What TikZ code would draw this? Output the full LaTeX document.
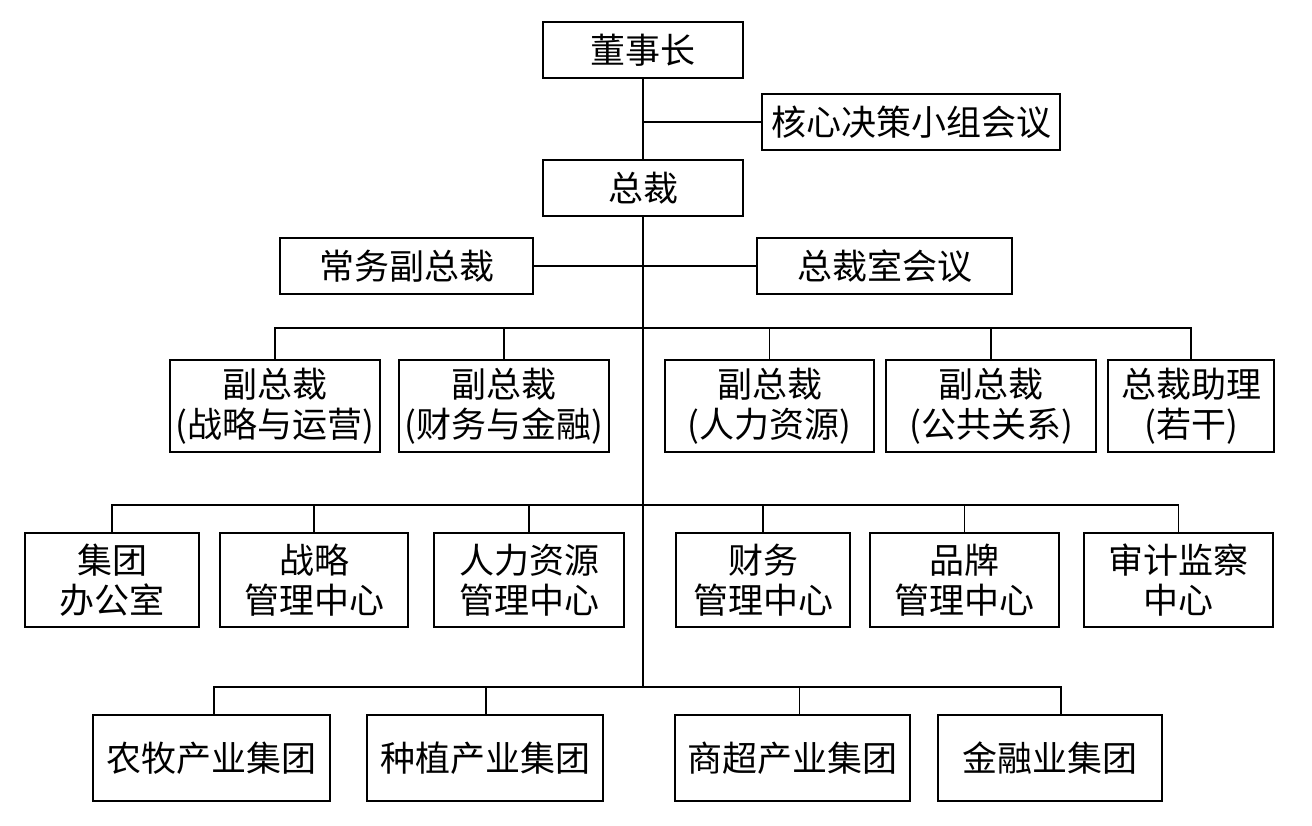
\documentclass[tikz,border=0pt]{standalone}
\usepackage{fontspec}
\newfontfamily\cjk{Noto Sans CJK SC}
\begin{document}
\begin{tikzpicture}[x=1pt,y=-1pt,
  box/.style={draw=black,line width=2.6pt,inner sep=0pt,align=center,
    font=\cjk\fontsize{35}{40}\selectfont},
  conn/.style={draw=black,line width=1.8pt}]
\useasboundingbox[fill=white] (0,0) rectangle (1312,826);
% top
\node[box,minimum width=200,minimum height=56] (dsz) at (643,50) {董事长};
\node[box,minimum width=298,minimum height=56] (hx) at (911,122) {核心决策小组会议};
\node[box,minimum width=200,minimum height=56] (zc) at (643,188) {总裁};
\node[box,minimum width=253,minimum height=56] (cw) at (406.5,266) {常务副总裁};
\node[box,minimum width=255,minimum height=56] (zcs) at (884.5,266) {总裁室会议};
% VP row
\node[box,minimum width=210,minimum height=92] (v1) at (275,406) {副总裁\\(战略与运营)};
\node[box,minimum width=210,minimum height=92] (v2) at (504,406) {副总裁\\(财务与金融)};
\node[box,minimum width=209,minimum height=92] (v3) at (769.5,406) {副总裁\\(人力资源)};
\node[box,minimum width=210,minimum height=92] (v4) at (991,406) {副总裁\\(公共关系)};
\node[box,minimum width=166,minimum height=92] (v5) at (1191,406) {总裁助理\\(若干)};
% centers row
\node[box,minimum width=174,minimum height=94] (c1) at (112,580) {集团\\办公室};
\node[box,minimum width=188,minimum height=94] (c2) at (314,580) {战略\\管理中心};
\node[box,minimum width=190,minimum height=94] (c3) at (529,580) {人力资源\\管理中心};
\node[box,minimum width=174,minimum height=94] (c4) at (763,580) {财务\\管理中心};
\node[box,minimum width=189,minimum height=94] (c5) at (964.5,580) {品牌\\管理中心};
\node[box,minimum width=189,minimum height=94] (c6) at (1178.5,580) {审计监察\\中心};
% groups row
\node[box,minimum width=237,minimum height=86] (g1) at (211.5,758) {农牧产业集团};
\node[box,minimum width=236,minimum height=86] (g2) at (485,758) {种植产业集团};
\node[box,minimum width=235,minimum height=86] (g3) at (792.5,758) {商超产业集团};
\node[box,minimum width=224,minimum height=86] (g4) at (1050,758) {金融业集团};
% junctions
\coordinate (j1) at (dsz.south |- hx.west);
\coordinate (b1) at (643,328);
\coordinate (b2) at (643,505);
\coordinate (b3) at (643,687);
% connectors
\draw[conn] (dsz.south) -- (zc.north);
\draw[conn] (j1) -- (hx.west);
\draw[conn] (cw.east) -- (zcs.west);
\draw[conn] (zc.south) -- (b3);
\foreach \n in {v1,v2,v3,v4,v5} \draw[conn] (b1) -| (\n.north);
\foreach \n in {c1,c2,c3,c4,c5,c6} \draw[conn] (b2) -| (\n.north);
\draw[conn] (b3) -| ([xshift=2.5pt]g1.north);
\draw[conn] (b3) -| ([xshift=1pt]g2.north);
\draw[conn] (b3) -| ([xshift=7pt]g3.north);
\draw[conn] (b3) -| ([xshift=11pt]g4.north);
\end{tikzpicture}
\end{document}
